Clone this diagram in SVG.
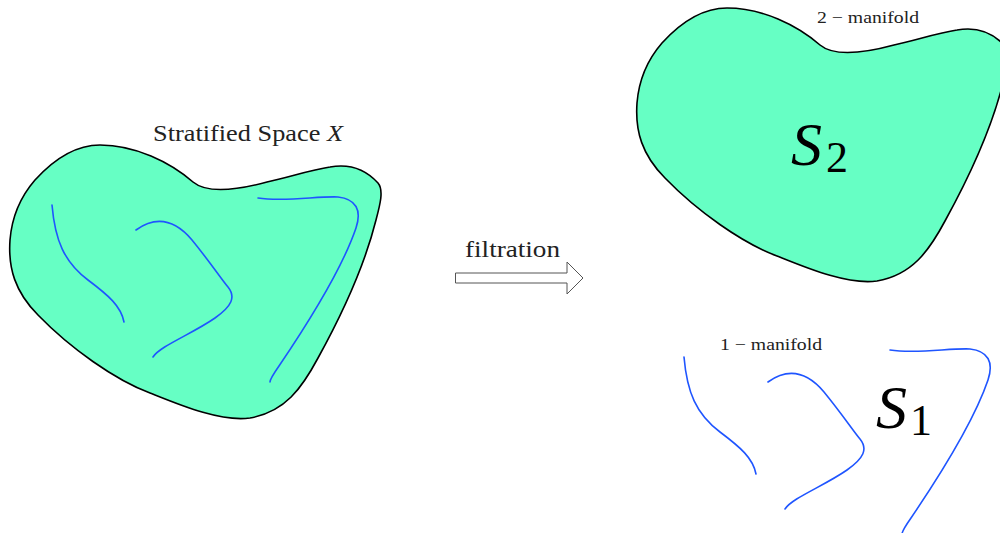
<svg xmlns="http://www.w3.org/2000/svg" width="1000" height="533" viewBox="0 0 1000 533">
<style>
.blob{fill:#66ffc4;stroke:#000;stroke-width:1.6}
.curve{fill:none;stroke:#1f55ff;stroke-width:1.6;stroke-linecap:round}
.t{font-family:"Liberation Serif",serif;fill:#222}
.m{font-family:"Liberation Serif",serif;fill:#000}
</style>
<defs>
<path id="blobShape" d="M100,145 C135,145 170,162 193,182 C205,192 230,192 267,182 C290,177 310,170 330,167 C352,163 368,172 378,183 C384,190 380,205 376,220 C368,252 350,300 318,358 C302,388 285,412 250,418 C220,422 180,405 150,393 C115,380 70,348 38,315 C15,292 8,268 10,240 C12,215 22,195 35,180 C55,158 78,145 100,145 Z"/>
<g id="curveSet">
<path d="M52,205 C55,240 64,262 88,280 C108,295 121,306 124,322"/>
<path d="M136,230 C150,220 170,214 192,240 C210,262 222,280 228,287 C236,297 232,306 215,318 C192,334 160,346 153,357"/>
<path d="M258,198 C285,202 318,196 338,197 C356,199 362,210 356,228 C340,275 300,335 279,366 C272,376 270,380 270,382"/>
</g>
</defs>
<g id="stratified-space">
<use href="#blobShape" class="blob"/>
<g class="curve"><use href="#curveSet"/></g>
<text class="t" x="153" y="141" font-size="23" textLength="190" lengthAdjust="spacingAndGlyphs">Stratified Space <tspan font-style="italic">X</tspan></text>
</g>
<g id="s2">
<use href="#blobShape" class="blob" transform="translate(627,-137)"/>
<text class="t" x="817" y="23" font-size="17" textLength="102" lengthAdjust="spacingAndGlyphs">2 − manifold</text>
<text class="m" x="791" y="165" font-size="62" font-style="italic">S</text>
<text class="m" x="826" y="172" font-size="44">2</text>
</g>
<g id="s1">
<g class="curve" transform="translate(632,152)"><use href="#curveSet"/></g>
<text class="t" x="720" y="350" font-size="17" textLength="102" lengthAdjust="spacingAndGlyphs">1 − manifold</text>
<text class="m" x="876" y="428" font-size="62" font-style="italic">S</text>
<text class="m" x="910" y="435" font-size="44">1</text>
</g>
<g id="connectors">
<path d="M455.5,273 H567 V262 L583,278 L567,294 V283 H455.5 Z" fill="#fff" stroke="#555" stroke-width="1"/>
<text class="t" x="465" y="257" font-size="23" textLength="95" lengthAdjust="spacingAndGlyphs">filtration</text>
</g>
</svg>
